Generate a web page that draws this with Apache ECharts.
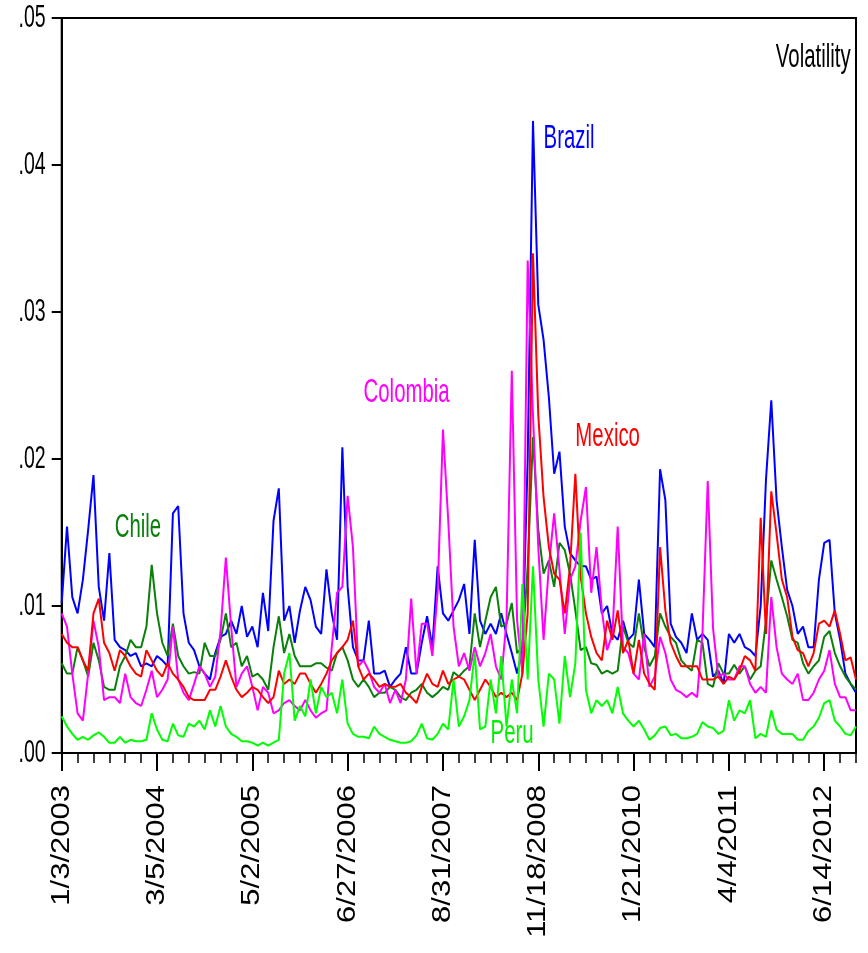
<!DOCTYPE html>
<html><head><meta charset="utf-8">
<script src="https://cdn.jsdelivr.net/npm/echarts@6/dist/echarts.min.js"></script>
<style>html,body{margin:0;padding:0;background:#fff}#c{width:868px;height:953px}</style>
</head><body><div id="c"></div>
<script>
// x-axis tick labels (one every 18 sampled observations)
const tickLabels = ['1/3/2003','3/5/2004','5/2/2005','6/27/2006','8/31/2007','11/18/2008','1/21/2010','4/4/2011','6/14/2012'];
const yTickValues = [0, .01, .02, .03, .04, .05];
const yTickLabels = ['.00','.01','.02','.03','.04','.05'];
const LABEL_STEP = 18, MINOR_STEP = 3;

const brazil = [.0102,.0154,.0106,.0095,.0118,.0152,.0189,.0113,.0090,.0136,
.0077,.0072,.0070,.0066,.0068,.0059,.0061,.0059,.0066,.0063,
.0059,.0163,.0168,.0095,.0075,.0070,.0059,.0054,.0050,.0068,
.0079,.0081,.0090,.0081,.0100,.0079,.0086,.0072,.0109,.0083,
.0158,.0180,.0090,.0100,.0075,.0097,.0113,.0104,.0086,.0081,
.0125,.0095,.0077,.0208,.0113,.0072,.0063,.0063,.0090,.0054,
.0054,.0056,.0045,.0050,.0054,.0072,.0054,.0054,.0075,.0093,
.0072,.0127,.0095,.0090,.0097,.0104,.0115,.0081,.0145,.0090,
.0081,.0088,.0081,.0095,.0081,.0068,.0054,.0070,.0200,.0430,
.0305,.0281,.0242,.0190,.0205,.0154,.0136,.0131,.0127,.0127,
.0118,.0120,.0095,.0100,.0081,.0077,.0090,.0077,.0081,.0118,
.0081,.0077,.0072,.0193,.0172,.0088,.0079,.0075,.0068,.0095,
.0077,.0081,.0077,.0052,.0056,.0047,.0081,.0075,.0081,.0072,
.0070,.0066,.0100,.0186,.0240,.0172,.0140,.0111,.0100,.0081,
.0086,.0072,.0072,.0118,.0143,.0145,.0095,.0077,.0054,.0047,
.0041];
const chile = [.0061,.0054,.0054,.0072,.0063,.0052,.0075,.0063,.0045,.0043,
.0043,.0059,.0066,.0077,.0072,.0072,.0086,.0128,.0095,.0075,
.0066,.0088,.0066,.0059,.0054,.0055,.0054,.0075,.0066,.0066,
.0077,.0095,.0072,.0075,.0059,.0066,.0052,.0054,.0050,.0043,
.0072,.0093,.0068,.0081,.0066,.0059,.0059,.0059,.0061,.0061,
.0058,.0056,.0068,.0072,.0063,.0050,.0045,.0050,.0045,.0038,
.0041,.0041,.0045,.0043,.0038,.0036,.0041,.0043,.0047,.0041,
.0038,.0041,.0045,.0043,.0055,.0052,.0056,.0059,.0095,.0072,
.0090,.0106,.0113,.0086,.0088,.0102,.0068,.0072,.0127,.0215,
.0152,.0122,.0131,.0113,.0143,.0138,.0122,.0097,.0070,.0072,
.0061,.0060,.0054,.0056,.0054,.0056,.0086,.0075,.0072,.0095,
.0072,.0059,.0066,.0095,.0086,.0079,.0075,.0063,.0059,.0056,
.0077,.0075,.0047,.0045,.0061,.0054,.0054,.0060,.0054,.0059,
.0050,.0056,.0059,.0090,.0131,.0118,.0106,.0093,.0077,.0075,
.0061,.0054,.0059,.0063,.0079,.0083,.0068,.0059,.0052,.0047,
.0043];
const colombia = [.0095,.0086,.0054,.0027,.0022,.0054,.0090,.0072,.0036,.0038,
.0038,.0034,.0054,.0038,.0034,.0032,.0043,.0056,.0038,.0043,
.0050,.0086,.0050,.0041,.0036,.0047,.0059,.0054,.0045,.0052,
.0083,.0133,.0086,.0045,.0054,.0059,.0045,.0029,.0045,.0041,
.0027,.0029,.0034,.0036,.0032,.0029,.0036,.0029,.0024,.0027,
.0029,.0072,.0109,.0113,.0175,.0140,.0059,.0063,.0056,.0045,
.0041,.0047,.0034,.0043,.0034,.0050,.0105,.0054,.0088,.0088,
.0066,.0110,.0220,.0158,.0086,.0059,.0068,.0056,.0072,.0059,
.0068,.0081,.0059,.0050,.0090,.0260,.0090,.0054,.0335,.0230,
.0140,.0077,.0127,.0163,.0125,.0081,.0118,.0127,.0158,.0181,
.0109,.0140,.0097,.0070,.0081,.0154,.0072,.0068,.0054,.0050,
.0081,.0045,.0052,.0079,.0068,.0050,.0043,.0041,.0038,.0041,
.0038,.0081,.0185,.0085,.0052,.0054,.0050,.0050,.0059,.0059,
.0047,.0041,.0045,.0041,.0106,.0072,.0054,.0050,.0047,.0054,
.0036,.0036,.0041,.0050,.0056,.0070,.0047,.0038,.0038,.0029,
.0029];
const mexico = [.0081,.0075,.0072,.0072,.0063,.0056,.0095,.0105,.0075,.0068,
.0056,.0070,.0066,.0059,.0054,.0052,.0070,.0063,.0056,.0052,
.0061,.0054,.0050,.0045,.0038,.0036,.0036,.0036,.0043,.0043,
.0052,.0063,.0052,.0043,.0038,.0041,.0045,.0043,.0038,.0034,
.0038,.0056,.0047,.0050,.0047,.0054,.0054,.0047,.0041,.0047,
.0054,.0063,.0068,.0072,.0077,.0090,.0059,.0050,.0054,.0050,
.0045,.0047,.0045,.0045,.0047,.0041,.0038,.0034,.0045,.0054,
.0047,.0045,.0056,.0047,.0050,.0052,.0050,.0043,.0036,.0043,
.0050,.0045,.0038,.0041,.0038,.0041,.0036,.0054,.0095,.0340,
.0230,.0174,.0140,.0122,.0118,.0095,.0127,.0190,.0120,.0095,
.0079,.0068,.0063,.0090,.0077,.0097,.0068,.0077,.0054,.0077,
.0054,.0047,.0043,.0140,.0097,.0075,.0066,.0059,.0059,.0059,
.0059,.0050,.0050,.0050,.0052,.0047,.0052,.0050,.0056,.0066,
.0063,.0056,.0160,.0081,.0178,.0149,.0118,.0106,.0079,.0070,
.0068,.0059,.0068,.0088,.0090,.0086,.0097,.0081,.0063,.0065,
.0050];
const peru = [.0025,.0018,.0013,.0009,.0011,.0009,.0012,.0014,.0011,.0007,
.0007,.0011,.0007,.0009,.0008,.0008,.0009,.0027,.0016,.0009,
.0008,.0020,.0012,.0011,.0020,.0018,.0022,.0016,.0029,.0018,
.0032,.0018,.0013,.0011,.0008,.0008,.0007,.0005,.0007,.0005,
.0007,.0009,.0054,.0068,.0022,.0032,.0025,.0050,.0027,.0045,
.0038,.0041,.0027,.0050,.0020,.0013,.0011,.0011,.0010,.0018,
.0013,.0011,.0009,.0008,.0007,.0007,.0008,.0012,.0020,.0010,
.0009,.0013,.0020,.0016,.0050,.0018,.0025,.0036,.0068,.0016,
.0018,.0050,.0027,.0066,.0018,.0050,.0027,.0115,.0050,.0127,
.0050,.0018,.0054,.0050,.0020,.0066,.0038,.0061,.0150,.0043,
.0027,.0036,.0032,.0036,.0027,.0045,.0027,.0022,.0018,.0022,
.0016,.0009,.0012,.0017,.0018,.0012,.0013,.0010,.0010,.0011,
.0013,.0021,.0018,.0017,.0013,.0015,.0036,.0022,.0029,.0027,
.0036,.0010,.0013,.0011,.0029,.0016,.0013,.0013,.0013,.0009,
.0009,.0015,.0018,.0024,.0034,.0036,.0022,.0018,.0013,.0012,
.0018];

const seriesNames = ['Brazil','Chile','Colombia','Mexico','Peru'];
const seriesData = [brazil, chile, colombia, mexico, peru];
const seriesColors = ['#0000ff','#0a800a','#ff00ff','#ff0000','#00ff00'];
// annotation anchor points in data space: [observation index, value]
const annotations = [
  {text:'Brazil', at:[90.9, .0418], color:'#0000ff', align:'left'},
  {text:'Colombia', at:[56.9, .0245], color:'#ff00ff', align:'left'},
  {text:'Mexico', at:[96.6, .0215], color:'#ff0000', align:'left'},
  {text:'Chile', at:[10.4, .0153], color:'#0a800a', align:'left'},
  {text:'Peru', at:[80.9, .00135], color:'#00f000', align:'left'},
  {text:'Volatility', at:[148.9, .0473], color:'#000000', align:'right'}
];

const N = brazil.length;
const categories = Array.from({length:N}, (_, i) => i % LABEL_STEP === 0 ? tickLabels[i / LABEL_STEP] : 'obs' + i);
const SANS = '"Liberation Sans", Arial, sans-serif';

const chart = echarts.init(document.getElementById('c'), null, {renderer:'canvas'});
chart.setOption({
  animation:false,
  backgroundColor:'#fff',
  grid:{left:61.7, top:18, right:12, bottom:200, show:true, borderColor:'#000', borderWidth:2, backgroundColor:'#fff', outerBoundsMode:'none'},
  xAxis:[
    {type:'category', data:categories, boundaryGap:false, position:'bottom',
     axisLine:{show:true, onZero:false, lineStyle:{color:'#000', width:2}},
     axisTick:{show:true, interval:(i)=> i % MINOR_STEP === 0, length:10, lineStyle:{color:'#000', width:1.5}},
     axisLabel:{show:false}, splitLine:{show:false}},
    {type:'category', data:categories, boundaryGap:false, position:'bottom', offset:0,
     axisLine:{show:false, onZero:false},
     axisTick:{show:true, interval:(i)=> i % LABEL_STEP === 0, length:18, lineStyle:{color:'#000', width:2}},
     axisLabel:{show:false}, splitLine:{show:false}}
  ],
  yAxis:{type:'value', min:0, max:0.05, interval:0.01,
    axisLine:{show:true, lineStyle:{color:'#000', width:2}},
    axisTick:{show:true, length:10, lineStyle:{color:'#000', width:2}},
    axisLabel:{show:false},
    splitLine:{show:false}},
  series: seriesNames.map((name, k) => ({
    name, type:'line', data:seriesData[k], xAxisIndex:0, yAxisIndex:0,
    showSymbol:false, symbol:'none', silent:true,
    lineStyle:{color:seriesColors[k], width:2}, itemStyle:{color:seriesColors[k]}, z:2+k
  }))
});

// Tick labels and annotations drawn as real text with the original's anisotropic stretch
const px = (i, v) => chart.convertToPixel({xAxisIndex:0, yAxisIndex:0}, [i, v]);
const axisY = px(0, 0)[1], axisX = px(0, 0)[0];
const graphics = [];
tickLabels.forEach((t, k) => {
  const p = px(k * LABEL_STEP, 0);
  graphics.push({type:'text', x:p[0], y:axisY + 32, rotation:Math.PI / 2, scaleX:1.24, z:100,
    style:{text:t, fill:'#000', fontFamily:SANS, fontSize:25, align:'right', verticalAlign:'middle'}});
});
yTickValues.forEach((v, k) => {
  const p = px(0, v);
  graphics.push({type:'text', x:axisX - 16, y:p[1], scaleX:0.61, z:100,
    style:{text:yTickLabels[k], fill:'#000', fontFamily:SANS, fontSize:32, align:'right', verticalAlign:'middle'}});
});
annotations.forEach(a => {
  const p = px(a.at[0], a.at[1]);
  graphics.push({type:'text', x:p[0], y:p[1], scaleX:0.6, z:100,
    style:{text:a.text, fill:a.color, fontFamily:SANS, fontSize:34, align:a.align, verticalAlign:'middle'}});
});
chart.setOption({graphic:graphics});
</script></body></html>
